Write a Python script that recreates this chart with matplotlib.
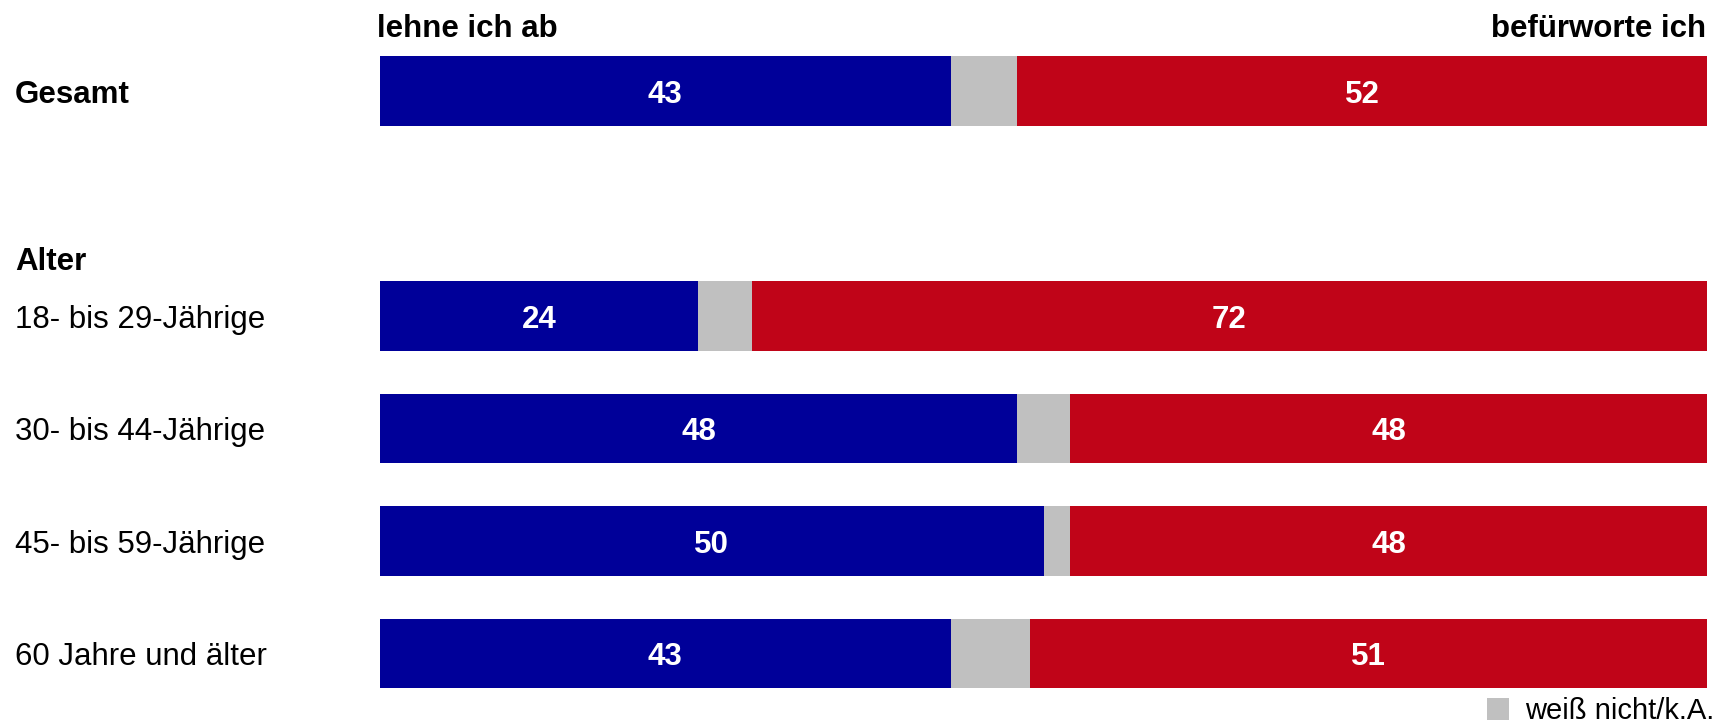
import matplotlib.pyplot as plt
from matplotlib.transforms import blended_transform_factory

plt.rcParams['font.family'] = ['Liberation Sans', 'DejaVu Sans']

# data
groups = ["Gesamt", "18- bis 29-Jährige", "30- bis 44-Jährige",
          "45- bis 59-Jährige", "60 Jahre und älter"]
bold_groups = ["Gesamt"]
slots = [0, 2, 3, 4, 5]          # row positions, slot 1 holds the "Alter" header
ablehnen = [43, 24, 48, 50, 43]
weiss_nicht = [5, 4, 4, 2, 6]
befuerworten = [52, 72, 48, 48, 51]

blue = "#000099"
red = "#C00418"
grey = "#C0C0C0"

fig = plt.figure(figsize=(17.14, 7.27), dpi=100)
ax = fig.add_axes([380 / 1714, 0, 1327 / 1714, 1])

h = 0.62
left2 = [a + w for a, w in zip(ablehnen, weiss_nicht)]
b1 = ax.barh(slots, ablehnen, height=h, color=blue)
b2 = ax.barh(slots, weiss_nicht, left=ablehnen, height=h, color=grey,
             label="weiß nicht/k.A.")
b3 = ax.barh(slots, befuerworten, left=left2, height=h, color=red)

lbls = ax.bar_label(b1, labels=[str(v) for v in ablehnen], label_type="center",
                    color="white", fontsize=22.5, fontweight="bold")
lbls += ax.bar_label(b3, labels=[str(v) for v in befuerworten], label_type="center",
                     color="white", fontsize=22.5, fontweight="bold")
for t in lbls:
    t.set_va("center_baseline")

ax.set_xlim(0, 100)
ax.set_ylim(5.653, -0.809)
ax.axis("off")

# column headers
ax.text(-0.2, -0.578, "lehne ich ab", ha="left", va="center_baseline",
        fontsize=22.5, fontweight="bold")
ax.text(99.9, -0.578, "befürworte ich", ha="right", va="center_baseline",
        fontsize=22.5, fontweight="bold")

# row labels
tr = blended_transform_factory(fig.transFigure, ax.transData)
for g, s in zip(groups, slots):
    ax.text(15 / 1714, s, g, transform=tr, ha="left", va="center_baseline",
            fontsize=22.5, fontweight="bold" if g in bold_groups else "normal")
ax.text(15 / 1714, 1.49, "Alter", transform=tr, ha="left", va="center_baseline",
        fontsize=22.5, fontweight="bold")

ax.legend(handles=[b2], loc="center right", bbox_to_anchor=(1.0, 1 - 711 / 727),
          bbox_transform=fig.transFigure, frameon=False, fontsize=21,
          borderaxespad=0, borderpad=0, handlelength=0.75, handleheight=0.75,
          handletextpad=0.55)

fig.savefig("out.png", dpi=100)
